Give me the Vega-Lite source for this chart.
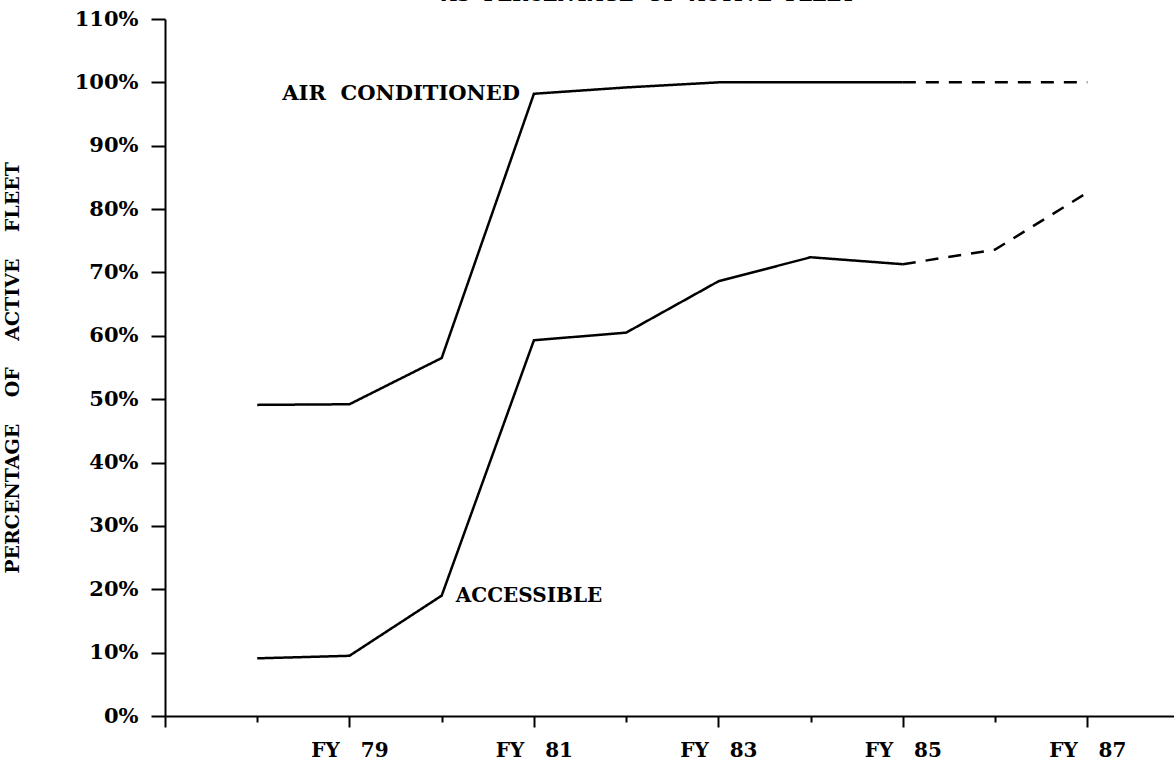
{
  "$schema": "https://vega.github.io/schema/vega-lite/v6.json",
  "autosize": {"type": "none"},
  "padding": {"left": 165, "top": 19, "right": 0, "bottom": 50},
  "width": 1009,
  "height": 697,
  "background": "white",
  "config": {
    "view": {"stroke": null},
    "font": "DejaVu Serif",
    "axis": {
      "domainColor": "black",
      "domainWidth": 2,
      "tickColor": "black",
      "tickWidth": 2,
      "grid": false,
      "labelFont": "DejaVu Serif",
      "labelFontWeight": "bold",
      "labelFontSize": 20,
      "labelColor": "black",
      "titleFont": "DejaVu Serif",
      "titleFontWeight": "bold",
      "titleColor": "black"
    }
  },
  "title": {
    "text": "AS\u00a0\u00a0PERCENTAGE\u00a0\u00a0OF\u00a0\u00a0ACTIVE\u00a0\u00a0FLEET",
    "font": "DejaVu Serif",
    "fontSize": 19,
    "fontWeight": "bold",
    "color": "black",
    "anchor": "middle",
    "baseline": "alphabetic",
    "dx": -21,
    "offset": -12
  },
  "datasets": {
    "lines": [
      {"series": "Air conditioned", "phase": "actual", "fy": 78, "pct": 49.1},
      {"series": "Air conditioned", "phase": "actual", "fy": 79, "pct": 49.2},
      {"series": "Air conditioned", "phase": "actual", "fy": 80, "pct": 56.5},
      {"series": "Air conditioned", "phase": "actual", "fy": 81, "pct": 98.2},
      {"series": "Air conditioned", "phase": "actual", "fy": 82, "pct": 99.2},
      {"series": "Air conditioned", "phase": "actual", "fy": 83, "pct": 100},
      {"series": "Air conditioned", "phase": "actual", "fy": 84, "pct": 100},
      {"series": "Air conditioned", "phase": "actual", "fy": 85, "pct": 100},
      {"series": "Air conditioned", "phase": "projected", "fy": 85, "pct": 100},
      {"series": "Air conditioned", "phase": "projected", "fy": 86, "pct": 100},
      {"series": "Air conditioned", "phase": "projected", "fy": 87, "pct": 100},
      {"series": "Accessible", "phase": "actual", "fy": 78, "pct": 9.1},
      {"series": "Accessible", "phase": "actual", "fy": 79, "pct": 9.5},
      {"series": "Accessible", "phase": "actual", "fy": 80, "pct": 19},
      {"series": "Accessible", "phase": "actual", "fy": 81, "pct": 59.3},
      {"series": "Accessible", "phase": "actual", "fy": 82, "pct": 60.5},
      {"series": "Accessible", "phase": "actual", "fy": 83, "pct": 68.6},
      {"series": "Accessible", "phase": "actual", "fy": 84, "pct": 72.4},
      {"series": "Accessible", "phase": "actual", "fy": 85, "pct": 71.3},
      {"series": "Accessible", "phase": "projected", "fy": 85, "pct": 71.3},
      {"series": "Accessible", "phase": "projected", "fy": 86, "pct": 73.6},
      {"series": "Accessible", "phase": "projected", "fy": 87, "pct": 82.6}
    ],
    "labels": [
      {"label": "AIR\u00a0\u00a0CONDITIONED", "side": "left", "fy": 81, "pct": 98.2},
      {"label": "ACCESSIBLE", "side": "right", "fy": 80, "pct": 19}
    ]
  },
  "layer": [
    {
      "mark": {"type": "rule", "color": "black", "strokeWidth": 2},
      "encoding": {"y": {"datum": 110, "type": "quantitative"}}
    },
    {
      "data": {"name": "lines"},
      "mark": {"type": "line", "color": "black", "strokeWidth": 2.5},
      "encoding": {
        "x": {
          "field": "fy",
          "type": "quantitative",
          "scale": {"domain": [77, 87.94], "nice": false, "zero": false},
          "axis": {
            "title": null,
            "values": [77, 78, 79, 80, 81, 82, 83, 84, 85, 86, 87],
            "labelExpr": "datum.value % 2 == 1 && datum.value > 77 ? 'FY\u00a0\u00a0\u00a0' + datum.value : ''",
            "tickSize": {"condition": {"test": "datum.value % 2 == 1", "value": 11}, "value": 6},
            "labelPadding": 13,
            "labelFlush": false,
            "labelOverlap": false
          }
        },
        "y": {
          "field": "pct",
          "type": "quantitative",
          "scale": {"domain": [0, 110], "nice": false},
          "axis": {
            "title": "PERCENTAGE\u00a0\u00a0\u00a0\u00a0OF\u00a0\u00a0\u00a0\u00a0ACTIVE\u00a0\u00a0\u00a0\u00a0FLEET",
            "titleFontSize": 19,
            "titlePadding": 52,
            "values": [0, 10, 20, 30, 40, 50, 60, 70, 80, 90, 100, 110],
            "labelExpr": "datum.value + '%'",
            "labelFontSize": 21,
            "tickSize": 14,
            "labelPadding": 13,
            "labelFlush": false,
            "labelOverlap": false
          }
        },
        "detail": {"field": "series"},
        "strokeDash": {
          "field": "phase",
          "type": "nominal",
          "scale": {"domain": ["actual", "projected"], "range": [[1, 0], [13, 10]]},
          "legend": null
        }
      }
    },
    {
      "data": {"name": "labels"},
      "transform": [{"filter": "datum.side == 'left'"}],
      "mark": {"type": "text", "align": "right", "baseline": "middle", "dx": -14, "fontSize": 21, "fontWeight": "bold", "font": "DejaVu Serif", "color": "black"},
      "encoding": {
        "x": {"field": "fy", "type": "quantitative"},
        "y": {"field": "pct", "type": "quantitative"},
        "text": {"field": "label"}
      }
    },
    {
      "data": {"name": "labels"},
      "transform": [{"filter": "datum.side == 'right'"}],
      "mark": {"type": "text", "align": "left", "baseline": "middle", "dx": 14, "fontSize": 20, "fontWeight": "bold", "font": "DejaVu Serif", "color": "black"},
      "encoding": {
        "x": {"field": "fy", "type": "quantitative"},
        "y": {"field": "pct", "type": "quantitative"},
        "text": {"field": "label"}
      }
    }
  ]
}
